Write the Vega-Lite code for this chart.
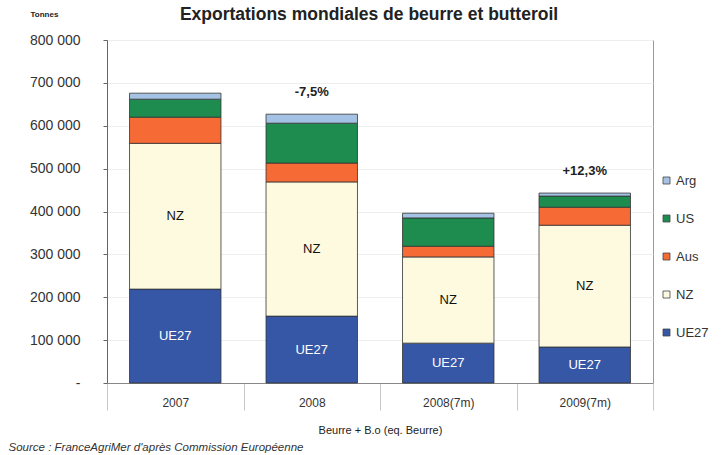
{
  "$schema": "https://vega.github.io/schema/vega-lite/v6.json",
  "autosize": {"type": "none"},
  "width": 546,
  "height": 343,
  "padding": {"left": 107, "top": 40, "right": 72, "bottom": 72},
  "background": "white",
  "config": {"font": "Liberation Sans", "view": {"stroke": "#9a9a9a", "strokeWidth": 1}},
  "title": {"text": "Exportations mondiales de beurre et butteroil", "fontSize": 17.5, "fontWeight": "bold", "color": "#222222", "anchor": "middle", "dx": -11, "offset": -13},
  "data": {"values": [
    {"periode": "2007", "origine": "UE27", "tonnes": 219000},
    {"periode": "2007", "origine": "NZ", "tonnes": 340000},
    {"periode": "2007", "origine": "Aus", "tonnes": 61000},
    {"periode": "2007", "origine": "US", "tonnes": 42000},
    {"periode": "2007", "origine": "Arg", "tonnes": 14000},
    {"periode": "2008", "origine": "UE27", "tonnes": 156000},
    {"periode": "2008", "origine": "NZ", "tonnes": 313000},
    {"periode": "2008", "origine": "Aus", "tonnes": 44000},
    {"periode": "2008", "origine": "US", "tonnes": 93000},
    {"periode": "2008", "origine": "Arg", "tonnes": 21000},
    {"periode": "2008(7m)", "origine": "UE27", "tonnes": 93000},
    {"periode": "2008(7m)", "origine": "NZ", "tonnes": 201000},
    {"periode": "2008(7m)", "origine": "Aus", "tonnes": 25000},
    {"periode": "2008(7m)", "origine": "US", "tonnes": 66000},
    {"periode": "2008(7m)", "origine": "Arg", "tonnes": 11000},
    {"periode": "2009(7m)", "origine": "UE27", "tonnes": 84000},
    {"periode": "2009(7m)", "origine": "NZ", "tonnes": 284000},
    {"periode": "2009(7m)", "origine": "Aus", "tonnes": 42000},
    {"periode": "2009(7m)", "origine": "US", "tonnes": 26000},
    {"periode": "2009(7m)", "origine": "Arg", "tonnes": 7000}
  ]},
  "transform": [
    {"calculate": "indexof(['UE27','NZ','Aus','US','Arg'], datum.origine)", "as": "rang"},
    {"stack": "tonnes", "groupby": ["periode"], "sort": [{"field": "rang", "order": "ascending"}], "as": ["bas", "haut"]},
    {"calculate": "(datum.bas + datum.haut) / 2", "as": "milieu"}
  ],
  "resolve": {"axis": {"x": "independent"}},
  "layer": [
    {
      "mark": {"type": "bar", "width": {"band": 0.67}, "stroke": "#333333", "strokeWidth": 0.8},
      "encoding": {
        "x": {
          "field": "periode", "type": "nominal",
          "sort": ["2007", "2008", "2008(7m)", "2009(7m)"],
          "scale": {"paddingInner": 0, "paddingOuter": 0},
          "axis": {
            "title": "Beurre + B.o (eq. Beurre)", "titleFontSize": 11, "titleFontWeight": "normal", "titleColor": "#222222",
            "titleX": 273, "titleY": 47, "titleBaseline": "middle",
            "labelAngle": 0, "labelFontSize": 12, "labelColor": "#333333", "labelPadding": -13,
            "ticks": true, "tickBand": "extent", "tickSize": 27, "tickColor": "#c8c8c8",
            "domainColor": "#888888", "grid": false
          }
        },
        "y": {
          "field": "haut", "type": "quantitative", "title": "Tonnes",
          "scale": {"domain": [0, 800000]},
          "axis": {
            "titleAngle": 0, "titleX": -77, "titleY": -26, "titleAlign": "left", "titleBaseline": "middle",
            "titleFontSize": 8, "titleFontWeight": "bold", "titleColor": "#222222",
            "values": [0, 100000, 200000, 300000, 400000, 500000, 600000, 700000, 800000],
            "labelExpr": "datum.value == 0 ? '-' : replace(format(datum.value, ','), ',', ' ')",
            "labelFontSize": 14, "labelColor": "#333333", "tickSize": 4, "labelPadding": 23,
            "domainColor": "#666666", "tickColor": "#666666", "gridColor": "#eeeeee"
          }
        },
        "y2": {"field": "bas"},
        "color": {
          "field": "origine", "type": "nominal",
          "scale": {"domain": ["Arg", "US", "Aus", "NZ", "UE27"], "range": ["#a4c3e4", "#1e8c4e", "#f56a35", "#fdfae0", "#3656a6"]},
          "legend": {
            "title": null, "orient": "none", "legendX": 553, "legendY": 134,
            "symbolType": "square", "symbolSize": 49, "symbolStrokeColor": "#444444", "symbolStrokeWidth": 0.8,
            "labelFontSize": 13, "labelColor": "#333333", "rowPadding": 24, "labelOffset": 3
          }
        }
      }
    },
    {
      "transform": [{"filter": "datum.origine == 'NZ' || datum.origine == 'UE27'"}],
      "mark": {"type": "text", "fontSize": 13},
      "encoding": {
        "x": {"field": "periode", "type": "nominal", "sort": ["2007", "2008", "2008(7m)", "2009(7m)"], "axis": null},
        "y": {"field": "milieu", "type": "quantitative", "title": "Tonnes"},
        "text": {"field": "origine"},
        "color": {"condition": {"test": "datum.origine == 'UE27'", "value": "#ffffff"}, "value": "#111111"}
      }
    },
    {
      "transform": [
        {"filter": "datum.origine == 'Arg'"},
        {"lookup": "periode", "from": {"data": {"values": [{"periode": "2008", "evolution": "-7,5%"}, {"periode": "2009(7m)", "evolution": "+12,3%"}]}, "key": "periode", "fields": ["evolution"]}},
        {"filter": "isValid(datum.evolution)"}
      ],
      "mark": {"type": "text", "fontSize": 13, "fontWeight": "bold", "dy": -22, "color": "#222222"},
      "encoding": {
        "x": {
          "field": "periode", "type": "nominal", "sort": ["2007", "2008", "2008(7m)", "2009(7m)"],
          "axis": {
            "orient": "bottom", "title": "Source : FranceAgriMer d'après Commission Européenne",
            "labels": false, "ticks": false, "domain": false, "grid": false,
            "titleX": -99, "titleY": 64, "titleAlign": "left", "titleBaseline": "middle",
            "titleFontStyle": "italic", "titleFontWeight": "normal", "titleFontSize": 11.5, "titleColor": "#333333"
          }
        },
        "y": {"field": "haut", "type": "quantitative", "title": "Tonnes"},
        "text": {"field": "evolution"}
      }
    }
  ]
}
